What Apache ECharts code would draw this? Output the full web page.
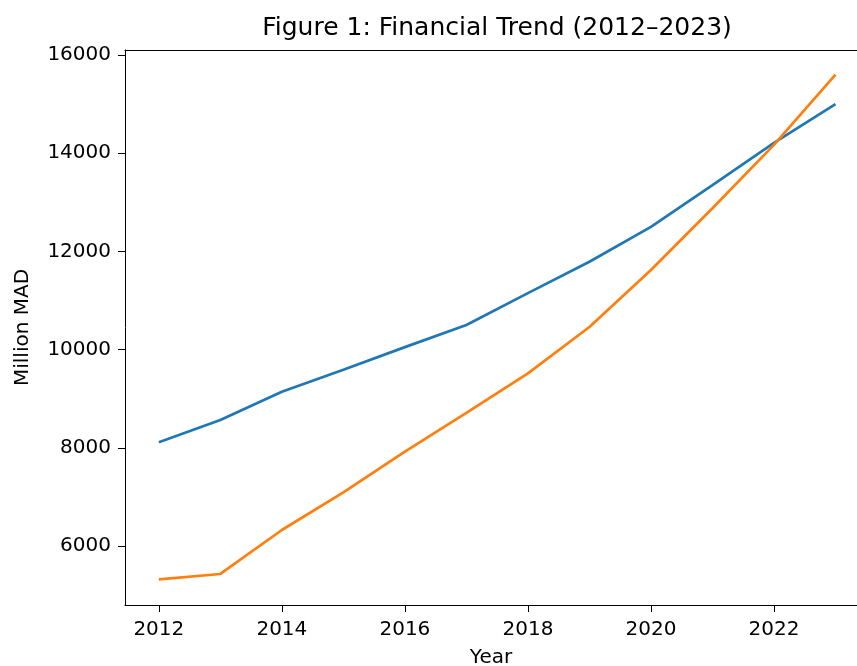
<!DOCTYPE html>
<html>
<head>
<meta charset="utf-8">
<script src="https://cdn.jsdelivr.net/npm/echarts@6/dist/echarts.min.js"></script>
<style>html,body{margin:0;padding:0;background:#fff}#c{width:857px;height:666px}</style>
</head>
<body>
<div id="c"></div>
<script>
var years = [2012, 2013, 2014, 2015, 2016, 2017, 2018, 2019, 2020, 2021, 2022, 2023];
var seriesA = [8112, 8566, 9143, 9590, 10050, 10500, 11150, 11790, 12500, 13350, 14210, 15000];
var seriesB = [5320, 5430, 6326, 7090, 7920, 8710, 9517, 10460, 11620, 12880, 14170, 15600];
var xTicks = [2012, 2014, 2016, 2018, 2020, 2022];
var yTicks = [6000, 8000, 10000, 12000, 14000, 16000];

var font = 'DejaVu Sans';
function pairs(xs, ys) { return xs.map(function (x, i) { return [x, ys[i]]; }); }

var chart = echarts.init(document.getElementById('c'), null, {renderer: 'canvas'});
chart.setOption({
  animation: false,
  backgroundColor: '#fff',
  title: {
    text: 'Figure 1: Financial Trend (2012\u20132023)',
    left: 497, top: 16, textAlign: 'center', padding: 0,
    textStyle: {fontFamily: font, fontSize: 25, fontWeight: 'normal', color: '#000'}
  },
  grid: {left: 125, top: 50, right: 0, bottom: 61, show: false, containLabel: false, outerBoundsMode: 'none'},
  xAxis: [{
    type: 'value', min: 2011.45, max: 2023.35,
    name: 'Year', nameLocation: 'middle', nameGap: 43,
    nameTextStyle: {fontFamily: font, fontSize: 20, color: '#000'},
    axisLine: {show: true, lineStyle: {color: '#000', width: 1}},
    axisTick: {show: true, length: 7, customValues: xTicks, lineStyle: {color: '#000', width: 1}},
    axisLabel: {customValues: xTicks, margin: 15, fontFamily: font, fontSize: 20, color: '#000', formatter: function (v) { return String(v); }},
    splitLine: {show: false}
  }, {
    type: 'value', position: 'top', min: 2011.45, max: 2023.35,
    axisLine: {show: true, lineStyle: {color: '#000', width: 1}},
    axisTick: {show: false}, axisLabel: {show: false}, splitLine: {show: false}
  }],
  yAxis: {
    type: 'value', min: 4798, max: 16102,
    name: 'Million MAD', nameLocation: 'middle', nameGap: 92,
    nameTextStyle: {fontFamily: font, fontSize: 20, color: '#000'},
    axisLine: {show: true, lineStyle: {color: '#000', width: 1}},
    axisTick: {show: true, length: 7, customValues: yTicks, lineStyle: {color: '#000', width: 1}},
    axisLabel: {customValues: yTicks, margin: 14, fontFamily: font, fontSize: 20, color: '#000', formatter: function (v) { return String(v); }},
    splitLine: {show: false}
  },
  series: [
    {name: 'Series A', type: 'line', xAxisIndex: 0, data: pairs(years, seriesA), symbol: 'none', lineStyle: {color: '#1f77b4', width: 2.7}, itemStyle: {color: '#1f77b4'}},
    {name: 'Series B', type: 'line', xAxisIndex: 0, data: pairs(years, seriesB), symbol: 'none', lineStyle: {color: '#ff7f0e', width: 2.7}, itemStyle: {color: '#ff7f0e'}}
  ]
});
</script>
</body>
</html>
